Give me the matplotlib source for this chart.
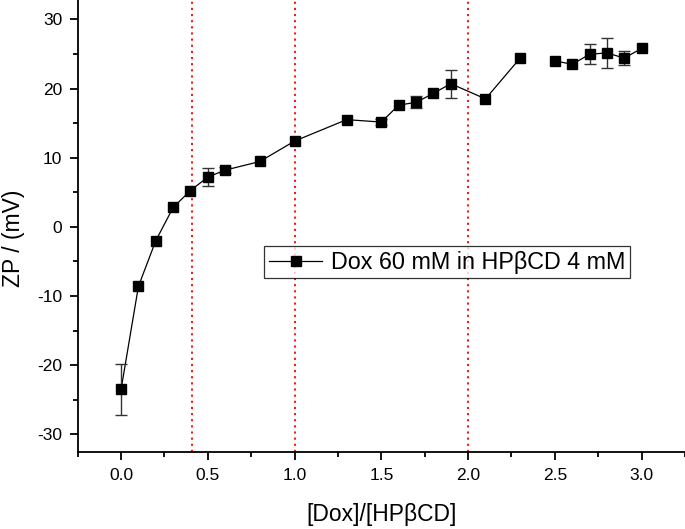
import numpy as np
import matplotlib
matplotlib.use("Agg")
import matplotlib.pyplot as plt
from matplotlib.ticker import MultipleLocator

plt.rcParams['font.family'] = ['Liberation Sans', 'DejaVu Sans']
plt.rcParams['axes.unicode_minus'] = False

# Data
ratio = [0.0, 0.1, 0.2, 0.3, 0.4, 0.5, 0.6, 0.8, 1.0, 1.3, 1.5, 1.6, 1.7, 1.8, 1.9, 2.1, 2.3,
         2.4, 2.5, 2.6, 2.7, 2.8, 2.9, 3.0]
zp = [-23.5, -8.6, -2.0, 2.8, 5.25, 7.2, 8.2, 9.45, 12.4, 15.5, 15.15, 17.6, 18.0, 19.3, 20.7, 18.5, 24.4,
      np.nan, 24.0, 23.5, 24.95, 25.15, 24.4, 25.8]
zp_err = [3.7, 0.0, 0.0, 0.0, 0.0, 1.3, 0.4, 0.0, 0.0, 0.0, 0.4, 0.0, 0.85, 0.0, 2.0, 0.0, 0.0,
          np.nan, 0.0, 0.0, 1.45, 2.2, 1.0, 0.0]
ref_lines = [0.41, 1.0, 2.0]
series_label = "Dox 60 mM in HP\u03b2CD 4 mM"
xlabel = "[Dox]/[HP\u03b2CD]"
ylabel = "ZP / (mV)"

W, H = 685, 529
fig = plt.figure(figsize=(W / 100, H / 100), dpi=100)
ax = fig.add_axes([77.7 / W, 1 - 452.3 / H, 1 - 77.7 / W, 452.3 / H])

for xv in ref_lines:
    ax.axvline(xv, color='red', linestyle=(0, (1.2, 2.2)), linewidth=1.3, zorder=1)

x = np.array(ratio)
y = np.array(zp)
e = np.array(zp_err)
ax.plot(x, y, color='black', linewidth=0.9, zorder=2)
mask = ~np.isnan(y) & (np.nan_to_num(e) > 0)
ax.errorbar(x[mask], y[mask], yerr=e[mask], fmt='none', ecolor='#333333',
            elinewidth=1.0, capsize=4, capthick=1.0, zorder=3)
ax.plot(x, y, linestyle='none', marker='s', markersize=7.5, color='black',
        markeredgecolor='black', zorder=4)

# legend proxy
h, = ax.plot([], [], color='black', linewidth=0.9, marker='s', markersize=7.5)
leg = ax.legend([h], [series_label], loc='upper left', bbox_to_anchor=(0.307, 0.456),
                borderaxespad=0, frameon=True, fancybox=False, fontsize=16.8,
                handlelength=2.3, handletextpad=0.35, borderpad=0.2,
                markerscale=0.9)
leg.get_frame().set_edgecolor('black')
leg.get_frame().set_linewidth(0.9)

ax.set_xlim(-0.25, 3.25)
ax.set_ylim(-32.6, 32.8)
ax.xaxis.set_major_locator(MultipleLocator(0.5))
ax.xaxis.set_minor_locator(MultipleLocator(0.25))
ax.yaxis.set_major_locator(MultipleLocator(10))
ax.yaxis.set_minor_locator(MultipleLocator(5))
ax.xaxis.set_major_formatter(matplotlib.ticker.FormatStrFormatter('%.1f'))

for s in ['top', 'right']:
    ax.spines[s].set_visible(False)
for s in ['left', 'bottom']:
    ax.spines[s].set_linewidth(1.3)
ax.tick_params(which='major', direction='out', length=6, width=1.3, labelsize=12.5, pad=5)
ax.tick_params(which='minor', direction='out', length=3.5, width=1.3)

ax.set_xlabel(xlabel, fontsize=16.5, labelpad=15)
ax.set_ylabel(ylabel, fontsize=16.5)
ax.yaxis.set_label_coords(-0.087, 0.474)

fig.savefig('out.png', dpi=100)
